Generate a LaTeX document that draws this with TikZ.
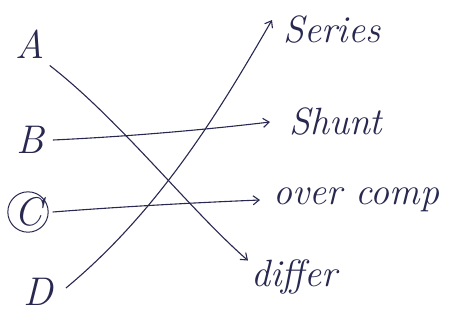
\documentclass[tikz,border=0pt]{standalone}
\usetikzlibrary{arrows.meta}
\definecolor{ink}{RGB}{40,40,80}
\begin{document}
\begin{tikzpicture}[x=1pt,y=-1pt,
  lbl/.style={text=ink,font=\fontsize{40}{42}\selectfont\itshape,inner sep=1pt},
  txt/.style={text=ink,font=\fontsize{38}{40}\selectfont\itshape,anchor=west,inner sep=1pt},
  conn/.style={draw=ink,line width=1.1pt,-{Straight Barb[length=6pt,width=9pt]}}]
\fill[white] (0,0) rectangle (468,322);
\useasboundingbox (0,0) rectangle (468,322);
\node[lbl] (A) at (30,44) {A};
\node[lbl] (B) at (30,140) {B};
\node[lbl,circle,draw=ink,line width=1pt,inner sep=0pt] (C) at (28,212) {C};
\node[lbl] (D) at (38,292) {D};
\node[txt] (ser) at (282,30) {Series};
\node[txt] (shu) at (288,122) {Shunt};
\node[txt] (ovr) at (272,200) {over comp};
\node[txt] (dif) at (250,277) {differ};
\draw[conn] ([xshift=4pt,yshift=-6pt]A.south east) .. controls (120,120) and (190,210) .. ([xshift=-2pt,yshift=-2pt]dif.north west);
\draw[conn] ([xshift=8pt]B.east) .. controls (140,136) and (220,128) .. ([xshift=-18pt]shu.west);
\draw[conn] ([xshift=4pt]C.east) .. controls (130,206) and (210,202) .. ([xshift=-12pt]ovr.west);
\draw[conn] ([xshift=12pt,yshift=4pt]D.east) .. controls (160,210) and (220,110) .. ([xshift=-10pt,yshift=10pt]ser.west);
\end{tikzpicture}
\end{document}
